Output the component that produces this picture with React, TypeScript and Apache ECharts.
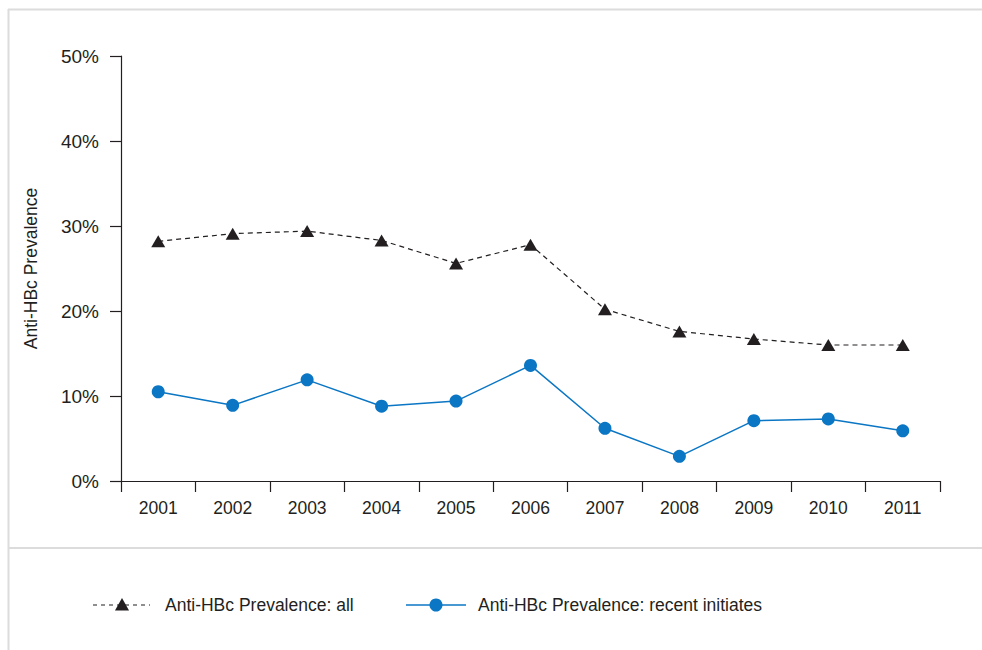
import React, { useEffect, useRef } from "react";
import * as echarts from "echarts";

const years = ["2001", "2002", "2003", "2004", "2005", "2006", "2007", "2008", "2009", "2010", "2011"];
const prevalenceAll = [28.2, 29.1, 29.4, 28.3, 25.6, 27.8, 20.2, 17.6, 16.7, 16.0, 16.0];
const prevalenceRecent = [10.5, 8.9, 11.9, 8.8, 9.4, 13.6, 6.2, 2.9, 7.1, 7.3, 5.9];
const seriesNames = ["Anti-HBc Prevalence: all", "Anti-HBc Prevalence: recent initiates"];
const yAxisTitle = "Anti-HBc Prevalence";

const FONT = "'Liberation Sans', Arial, Helvetica, sans-serif";
const INK = "#231f20";
const BLUE = "#0a76c4";
const FRAME = "#dcdcdc";

export default function App() {
  const ref = useRef<HTMLDivElement>(null);
  useEffect(() => {
    if (!ref.current) return;
    const chart = echarts.init(ref.current, null, { renderer: "svg" });
    chart.setOption({
      animation: false,
      backgroundColor: "#ffffff",
      textStyle: { fontFamily: FONT, color: INK },
      grid: { left: 121, right: 42, top: 56, bottom: 169, containLabel: false },
      xAxis: {
        type: "category",
        data: years,
        boundaryGap: true,
        axisLine: { show: true, lineStyle: { color: INK, width: 1.2 } },
        axisTick: { show: true, length: 11, inside: false, lineStyle: { color: INK, width: 1.2 } },
        axisLabel: { fontSize: 17.5, color: INK, margin: 18, fontFamily: FONT },
        splitLine: { show: false },
      },
      yAxis: {
        type: "value",
        min: 0,
        max: 50,
        interval: 10,
        name: yAxisTitle,
        nameLocation: "middle",
        nameGap: 81,
        nameTextStyle: { fontSize: 17.5, color: INK, fontFamily: FONT },
        axisLine: { show: true, lineStyle: { color: INK, width: 1.2 } },
        axisTick: { show: true, length: 11, inside: false, lineStyle: { color: INK, width: 1.2 } },
        axisLabel: { fontSize: 19, color: INK, margin: 22, formatter: "{value}%", fontFamily: FONT },
        splitLine: { show: false },
      },
      series: [
        {
          name: seriesNames[0],
          type: "line",
          data: prevalenceAll,
          symbol: "triangle",
          symbolSize: [14, 12],
          itemStyle: { color: INK },
          lineStyle: { color: INK, width: 1.2, type: [5, 4] },
          z: 3,
        },
        {
          name: seriesNames[1],
          type: "line",
          data: prevalenceRecent,
          symbol: "circle",
          symbolSize: 13,
          itemStyle: { color: BLUE },
          lineStyle: { color: BLUE, width: 1.5 },
          z: 4,
        },
      ],
      graphic: [
        { type: "line", shape: { x1: 8.5, y1: 9, x2: 8.5, y2: 650 }, style: { stroke: FRAME, lineWidth: 2 } },
        { type: "line", shape: { x1: 8, y1: 9.5, x2: 982, y2: 9.5 }, style: { stroke: FRAME, lineWidth: 2 } },
        { type: "line", shape: { x1: 8, y1: 548, x2: 982, y2: 548 }, style: { stroke: FRAME, lineWidth: 2 } },
        // legend item 1
        { type: "line", shape: { x1: 93, y1: 605, x2: 150, y2: 605 }, style: { stroke: INK, lineWidth: 1.2, lineDash: [4, 4] } },
        { type: "polygon", shape: { points: [[122, 598], [129, 610.5], [115, 610.5]] }, style: { fill: INK } },
        { type: "text", x: 165, y: 605, style: { text: seriesNames[0], fontSize: 17.5, fill: INK, fontFamily: FONT, verticalAlign: "middle", align: "left" } },
        // legend item 2
        { type: "line", shape: { x1: 406, y1: 605, x2: 466, y2: 605 }, style: { stroke: BLUE, lineWidth: 1.5 } },
        { type: "circle", shape: { cx: 436, cy: 605, r: 6.5 }, style: { fill: BLUE } },
        { type: "text", x: 478, y: 605, style: { text: seriesNames[1], fontSize: 17.5, fill: INK, fontFamily: FONT, verticalAlign: "middle", align: "left" } },
      ],
    });
    return () => chart.dispose();
  }, []);
  return <div ref={ref} style={{ position: "fixed", left: 0, top: 0, width: 982, height: 650 }} />;
}
